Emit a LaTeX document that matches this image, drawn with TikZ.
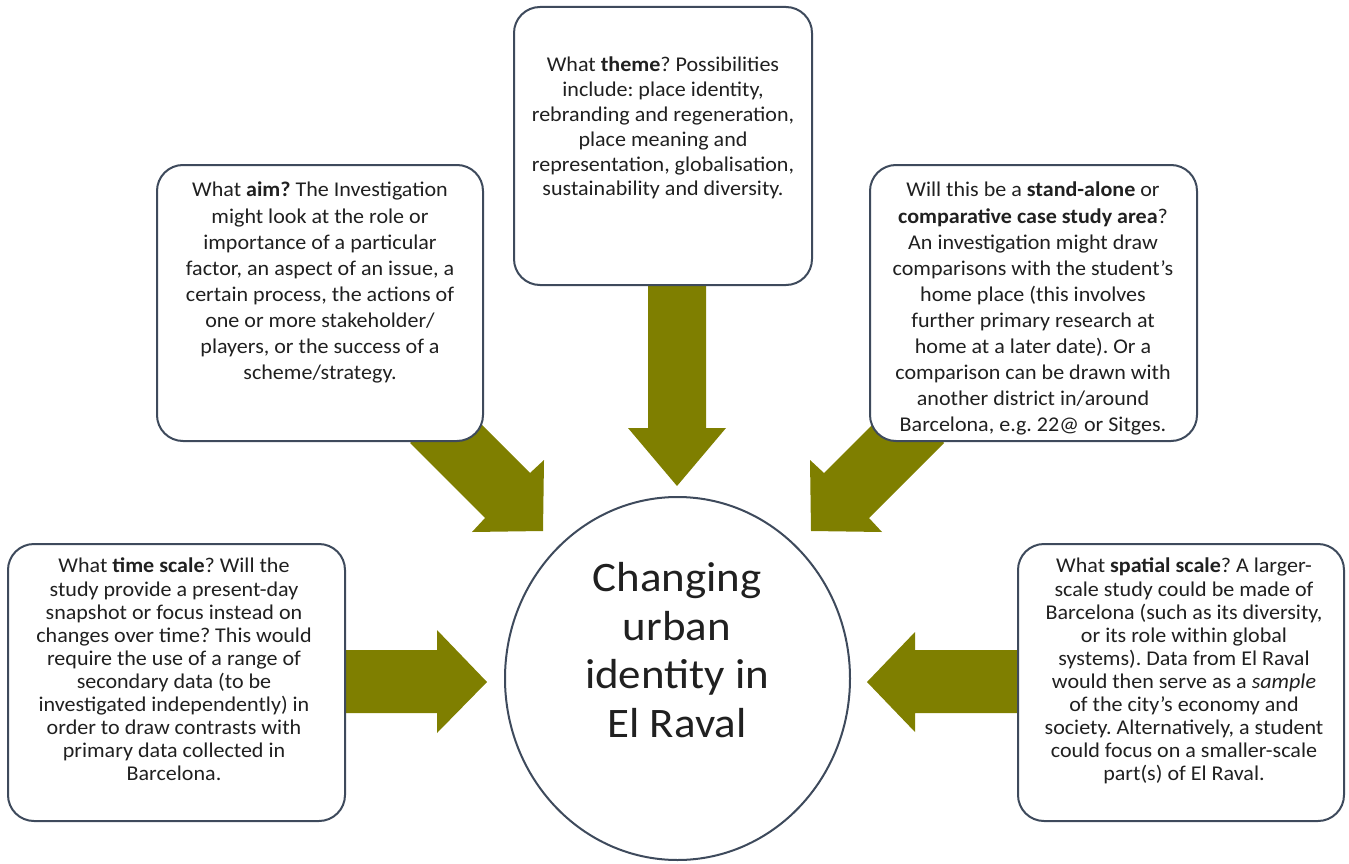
\documentclass[tikz,border=0pt]{standalone}
\usepackage{fontspec}
\setmainfont{Carlito}
\newfontfamily\boxfont[FakeStretch=1.05]{Carlito}
\newfontfamily\hubfont[FakeStretch=1.07]{Carlito}
\definecolor{olive}{HTML}{7F7F00}
\definecolor{edge}{HTML}{3E4A5C}
\definecolor{ink}{HTML}{202020}
\begin{document}
\frenchspacing
\begin{tikzpicture}[x=1pt,y=-1pt,
  box/.style={draw=edge,line width=2pt,rounded corners=26pt,fill=white,inner sep=0pt},
  txt/.style={text=ink,align=center,inner sep=0pt,anchor=north},
  toptxt/.style={txt,font=\boxfont\fontsize{21}{26.1}\selectfont},
  lowtxt/.style={txt,font=\boxfont\fontsize{21}{23.1}\selectfont},
  blockarrow/.style={fill=olive,draw=none}]
\useasboundingbox (0,0) rectangle (1349,864);
% arrows
\fill[blockarrow] (648,285) -- (706,285) -- (706,428) -- (726,428) -- (677,486) -- (628,428) -- (648,428) -- cycle;
\fill[blockarrow] (345,650) -- (437,650) -- (437,630) -- (487,682) -- (437,733) -- (437,713) -- (345,713) -- cycle;
\fill[blockarrow] (1018,650) -- (915,650) -- (915,632) -- (867,682) -- (915,732) -- (915,713) -- (1018,713) -- cycle;
\fill[blockarrow] (455,398) -- (530,473) -- (544,460) -- (543,531) -- (472,532) -- (485,518) -- (410,443) -- cycle;
\fill[blockarrow] (899,398) -- (824,473) -- (810,460) -- (811,531) -- (882,532) -- (869,518) -- (944,443) -- cycle;
% boxes
\node[box,minimum width=298pt,minimum height=278pt] (themebox) at (663,146) {};
\node[box,minimum width=326pt,minimum height=276pt] (aimbox) at (320,303) {};
\node[box,minimum width=327pt,minimum height=276pt] (standbox) at (1033.5,303) {};
\node[box,minimum width=337pt,minimum height=277pt] (timebox) at (176.5,682.5) {};
\node[box,minimum width=326pt,minimum height=277pt] (spacebox) at (1181,682.5) {};
\draw[draw=edge,line width=2pt,fill=white] (677.5,678.5) ellipse [x radius=172.5pt, y radius=181.5pt];
\coordinate (hub) at (677.5,678.5);
% texts
\node[txt,font=\boxfont\fontsize{21}{24.8}\selectfont] (themetxt) at (663,57) {What \textbf{theme}? Possibilities\\include: place identity,\\rebranding and regeneration,\\place meaning and\\representation, globalisation,\\sustainability and diversity.};
\node[toptxt] (aimtxt) at (320,182) {What \textbf{aim?} The Investigation\\might look at the role or\\importance of a particular\\factor, an aspect of an issue, a\\certain process, the actions of\\one or more stakeholder/\\players, or the success of a\\scheme/strategy.};
\node[toptxt] (standtxt) at (1033,182) {Will this be a \textbf{stand-alone} or\\\textbf{comparative case study area}?\\An investigation might draw\\comparisons with the student’s\\home place (this involves\\further primary research at\\home at a later date). Or a\\comparison can be drawn with\\another district in/around\\Barcelona, e.g. 22@ or Sitges.};
\node[lowtxt] (timetxt) at (174,558) {What \textbf{time scale}? Will the\\study provide a present-day\\snapshot or focus instead on\\changes over time? This would\\require the use of a range of\\secondary data (to be\\investigated independently) in\\order to draw contrasts with\\primary data collected in\\Barcelona.};
\node[lowtxt] (spacetxt) at (1184,558) {What \textbf{spatial scale}? A larger-\\scale study could be made of\\Barcelona (such as its diversity,\\or its role within global\\systems). Data from El Raval\\would then serve as a \textit{sample}\\of the city’s economy and\\society. Alternatively, a student\\could focus on a smaller-scale\\part(s) of El Raval.};
\node[text=ink,align=center,inner sep=0pt,font=\hubfont\fontsize{42}{48.5}\selectfont] (hubtxt) at (677,650) {Changing\\urban\\identity in\\El Raval};
\end{tikzpicture}
\end{document}
